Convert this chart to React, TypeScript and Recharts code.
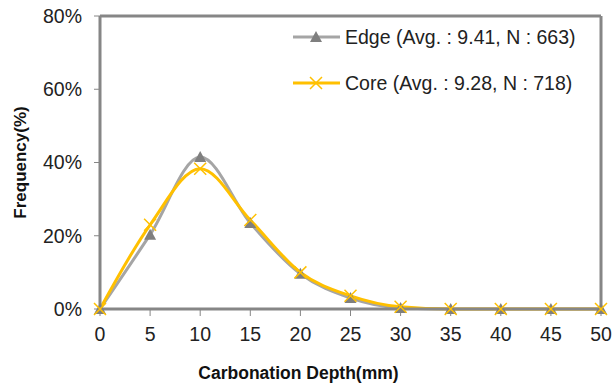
import React from 'react';
import { LineChart, Line, XAxis, YAxis, ReferenceLine } from 'recharts';

const depths = [0, 5, 10, 15, 20, 25, 30, 35, 40, 45, 50];
const edgeValues = [0, 20.3, 41.5, 23.5, 9.6, 3.0, 0.3, 0, 0, 0, 0];
const coreValues = [0, 23.0, 38.3, 24.3, 10.0, 3.6, 0.6, 0, 0, 0, 0];
const xTicks = [0, 5, 10, 15, 20, 25, 30, 35, 40, 45, 50];
const yTicks = [0, 20, 40, 60, 80];
const edgeLabel = 'Edge (Avg. : 9.41, N : 663)';
const coreLabel = 'Core (Avg. : 9.28, N : 718)';

const data = depths.map((d, i) => ({ depth: d, edge: edgeValues[i], core: coreValues[i] }));

const AXIS = '#868686';
const EDGE_LINE = '#A5A5A5';
const EDGE_MARK = '#7F7F7F';
const CORE = '#FFC000';
const FONT = '"Liberation Sans", Arial, sans-serif';

const Triangle = (props: any) => {
  const { cx, cy } = props;
  if (cx == null || cy == null) return null;
  return <path d={`M${cx},${cy - 6} L${cx + 6},${cy + 5} L${cx - 6},${cy + 5} Z`} fill={EDGE_MARK} />;
};

const Cross = (props: any) => {
  const { cx, cy } = props;
  if (cx == null || cy == null) return null;
  return (
    <path d={`M${cx - 6},${cy - 6} L${cx + 6},${cy + 6} M${cx + 6},${cy - 6} L${cx - 6},${cy + 6}`} stroke={CORE} strokeWidth={1.5} fill="none" />
  );
};

const LegendOverlay = () => (
  <svg width={320} height={80} style={{ position: 'absolute', left: 290, top: 20 }}>
    <line x1={3} y1={17} x2={50} y2={17} stroke={EDGE_LINE} strokeWidth={3} />
    <Triangle cx={26} cy={17} />
    <text x={55} y={24} fontSize={19.5} fontFamily={FONT} fill="#222">{edgeLabel}</text>
    <line x1={3} y1={63} x2={50} y2={63} stroke={CORE} strokeWidth={3} />
    <Cross cx={26} cy={63} />
    <text x={55} y={70} fontSize={19.5} fontFamily={FONT} fill="#222">{coreLabel}</text>
  </svg>
);

export default function App() {
  return (
    <div style={{ position: 'absolute', left: 0, top: 0, width: 615, height: 388, background: '#fff' }}>
      <LineChart width={615} height={388} data={data} margin={{ top: 16, right: 14, left: 0, bottom: 0 }}>
        <XAxis
          dataKey="depth"
          type="number"
          domain={[0, 50]}
          ticks={xTicks}
          interval={0}
          height={79}
          axisLine={{ stroke: AXIS, strokeWidth: 3 }}
          tickLine={{ stroke: AXIS, strokeWidth: 1 }}
          tickSize={7}
          tick={{ fontSize: 19.5, fill: '#222', fontFamily: FONT }}
          tickMargin={11}
          label={{ value: 'Carbonation Depth(mm)', position: 'insideBottom', offset: 9, dx: -52, fontSize: 17.5, fontWeight: 'bold', fill: '#111', fontFamily: FONT }}
        />
        <YAxis
          type="number"
          domain={[0, 80]}
          ticks={yTicks}
          width={100}
          axisLine={{ stroke: AXIS, strokeWidth: 3 }}
          tickLine={{ stroke: AXIS, strokeWidth: 1 }}
          tickSize={6}
          tickFormatter={(v: number) => `${v}%`}
          tick={{ fontSize: 19.5, fill: '#222', fontFamily: FONT }}
          tickMargin={12}
          label={{ value: 'Frequency(%)', angle: -90, position: 'insideLeft', offset: 20, style: { textAnchor: 'middle' }, fontSize: 17, fontWeight: 'bold', fill: '#111', fontFamily: FONT }}
        />
        <ReferenceLine y={80} stroke={AXIS} strokeWidth={3} />
        <ReferenceLine x={50} stroke={AXIS} strokeWidth={3} />
        <Line type="monotone" dataKey="edge" stroke={EDGE_LINE} strokeWidth={3} dot={<Triangle />} activeDot={false} isAnimationActive={false} />
        <Line type="monotone" dataKey="core" stroke={CORE} strokeWidth={3} dot={<Cross />} activeDot={false} isAnimationActive={false} />
      </LineChart>
      <LegendOverlay />
    </div>
  );
}
